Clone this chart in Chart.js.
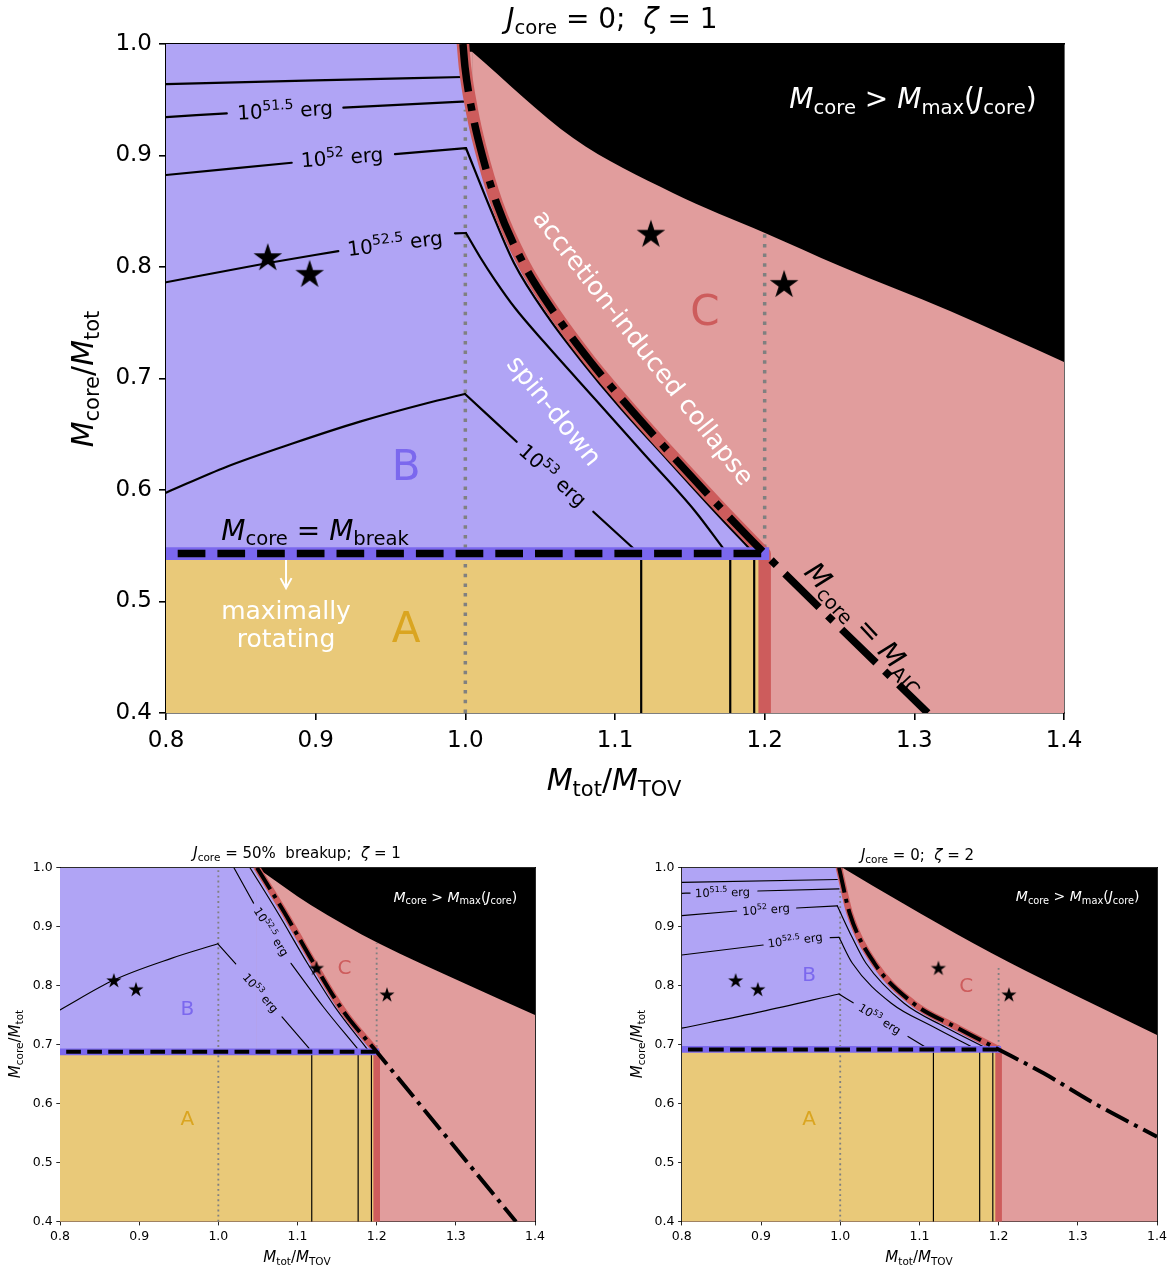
<!DOCTYPE html>
<html>
<head>
<meta charset="utf-8">
<script src="https://cdn.jsdelivr.net/npm/chart.js@4.4.1/dist/chart.umd.min.js"></script>
<style>
  body { margin: 0; background: #fff; }
  #wrap { position: relative; width: 1174px; height: 1268px; }
  canvas { position: absolute; }
</style>
</head>
<body>
<div id="wrap">
  <canvas id="top" width="1174" height="800" style="left:0;top:0;width:1174px;height:800px"></canvas>
  <canvas id="botL" width="587" height="448" style="left:0;top:820px;width:587px;height:448px"></canvas>
  <canvas id="botR" width="587" height="448" style="left:587px;top:820px;width:587px;height:448px"></canvas>
</div>
<script>
// ticks (same in all 3 panels)
const xTicks = [0.8, 0.9, 1.0, 1.1, 1.2, 1.3, 1.4];
const yTicks = [0.4, 0.5, 0.6, 0.7, 0.8, 0.9, 1.0];
// observed systems (stars)
const stars = [[0.868, 0.808], [0.896, 0.793], [1.124, 0.829], [1.213, 0.784]];

// ---- panel 1 : J_core = 0 ; zeta = 1
const topBreak = 0.543;
const topMmax = [[1.0045, 0.993], [1.072, 0.9157], [1.1387, 0.8664], [1.2002, 0.8305], [1.2503, 0.8009], [1.3238, 0.7605], [1.4, 0.7148]];
const topAIC = [[0.9984, 1.0], [0.9998, 0.979], [1.0043, 0.941], [1.0098, 0.908], [1.021, 0.857], [1.0385, 0.804], [1.0586, 0.7605], [1.0833, 0.7157], [1.108, 0.6762], [1.1388, 0.63], [1.1722, 0.5816], [1.2, 0.543]];
const topAICext = [[1.2, 0.543], [1.309, 0.4]];
const topE0 = [[[0.8, 0.9641], [0.8996, 0.9673], [0.9984, 0.9704]]];
const topE515 = [[[0.8, 0.9345], [0.8406, 0.9378]], [[0.9185, 0.9429], [0.9987, 0.9483]]];
const topE52 = [[[0.8, 0.8825], [0.884, 0.8935]], [[0.953, 0.9013], [1.0004, 0.9067]],
  [[1.0004, 0.9067], [1.0171, 0.8511], [1.0325, 0.8036], [1.0552, 0.7552], [1.0786, 0.7139], [1.1031, 0.6744], [1.1352, 0.6269], [1.1675, 0.5794], [1.1895, 0.548]]];
const topE525 = [[[0.8, 0.7863], [0.8682, 0.8036], [0.9151, 0.8143]], [[0.9931, 0.8302], [1.0004, 0.8305]],
  [[1.0004, 0.8305], [1.0098, 0.809], [1.0198, 0.7883], [1.0332, 0.7632], [1.0532, 0.7318], [1.0866, 0.6816], [1.12, 0.6314], [1.1534, 0.5812], [1.1721, 0.548]]];
const topE53 = [[[0.8, 0.5976], [0.8406, 0.6209], [0.885, 0.6419], [0.9296, 0.6613], [0.9742, 0.6778], [0.9998, 0.6861]],
  [[0.9998, 0.6861], [1.0343, 0.6433]], [[1.0855, 0.5805], [1.112, 0.548]]];
const topVert = [1.1175, 1.177, 1.193];
const topDotted = [[1.0, 0.941], [1.2, 0.8314]];

// ---- panel 2 : J_core = 50% breakup ; zeta = 1
const blBreak = 0.688;
const blMmax = [[1.0488, 1.0], [1.1167, 0.9368], [1.2024, 0.8719], [1.3107, 0.8041], [1.4, 0.7503]];
const blAIC = [[1.0488, 1.0], [1.0835, 0.924], [1.1205, 0.838], [1.1573, 0.758], [1.2, 0.688]];
const blAICext = [[1.2, 0.688], [1.376, 0.4]];
const blE52 = [[[1.04, 1.0], [1.0755, 0.9227], [1.1125, 0.838], [1.147, 0.7645], [1.189, 0.691]]];
const blE525 = [[[1.0197, 1.0], [1.0445, 0.94]], [[1.0918, 0.838], [1.133, 0.7635], [1.1753, 0.694]]];
const blE53 = [[[0.8, 0.759], [0.8686, 0.81], [0.9407, 0.8464], [0.9994, 0.871]], [[0.9994, 0.871], [1.022, 0.837]], [[1.0804, 0.747], [1.1144, 0.694]]];
const blVert = [1.118, 1.1766, 1.1934];
const blDotted = [[1.0, 1.0], [1.2, 0.872]];

// ---- panel 3 : J_core = 0 ; zeta = 2
const brBreak = 0.692;
const brMmax = [[1.003, 1.0], [1.079, 0.9397], [1.168, 0.872], [1.257, 0.81], [1.4, 0.7165]];
const brAIC = [[0.9985, 1.0], [1.012, 0.9227], [1.0432, 0.838], [1.0923, 0.7702], [1.1458, 0.73], [1.2, 0.692]];
const brAICext = [[1.2, 0.692], [1.257, 0.6515], [1.3243, 0.598], [1.4, 0.544]];
const brE0 = [[[0.8, 0.975], [0.9963, 0.98]]];
const brE515 = [[[0.8, 0.9566], [0.8105, 0.957]], [[0.896, 0.9605], [0.9985, 0.964]]];
const brE52 = [[[0.8, 0.9187], [0.8692, 0.9266]], [[0.945, 0.9317], [0.9963, 0.9353]],
  [[0.9963, 0.9353], [1.0149, 0.8825], [1.0326, 0.838], [1.0806, 0.7702], [1.1324, 0.73], [1.1866, 0.6927]]];
const brE525 = [[[0.8, 0.852], [0.9027, 0.869]], [[0.9874, 0.8814], [0.9985, 0.882]],
  [[0.9985, 0.882], [1.0154, 0.838], [1.0645, 0.7702], [1.118, 0.73], [1.1715, 0.6927]]];
const brE53 = [[[0.8, 0.728], [0.9004, 0.756], [0.9985, 0.786]], [[0.9985, 0.786], [1.0164, 0.771]], [[1.0856, 0.714], [1.11, 0.694]]];
const brVert = [1.1177, 1.1761, 1.1927];
const brDotted = [[1.0, 0.96], [1.2, 0.832]];

// colours (matplotlib named colours, alpha .6 on white for the regions)
const PURPLE = 'rgb(176,164,245)', YELLOW = 'rgb(233,201,121)', PINK = 'rgb(225,157,157)';
const RED = '#cd5c5c', SLATE = '#7b68ee', GOLD = '#daa520', GREY = '#808080';
const FONT = '"DejaVu Sans", sans-serif';

// tiny mathtext: $..$ italic, _{..} sub, ^{..} sup
const parseMath = (s) => {
  const out = [];
  let buf = '', i = 0;
  const push = (t, k) => { if (t) out.push({ t, k }); };
  while (i < s.length) {
    const c = s[i];
    if (c === '$') {
      push(buf, 'n'); buf = '';
      const j = s.indexOf('$', i + 1);
      push(s.slice(i + 1, j), 'i'); i = j + 1;
    } else if ((c === '_' || c === '^') && s[i + 1] === '{') {
      push(buf, 'n'); buf = '';
      const j = s.indexOf('}', i);
      push(s.slice(i + 2, j), c === '_' ? 'sub' : 'sup'); i = j + 1;
    } else { buf += c; i++; }
  }
  push(buf, 'n');
  return out;
};

const drawRich = (ctx, str, x, y, size, color, rot) => {
  const parts = parseMath(str);
  const fontOf = (p) => (p.k === 'i' ? 'italic ' : '') + ((p.k === 'sub' || p.k === 'sup') ? size * 0.7 : size) + 'px ' + FONT;
  let w = 0;
  parts.forEach((p) => { ctx.font = fontOf(p); p.w = ctx.measureText(p.t).width; w += p.w; });
  ctx.save();
  ctx.translate(x, y);
  ctx.rotate((rot || 0) * Math.PI / 180);
  ctx.fillStyle = color || '#000';
  ctx.textBaseline = 'alphabetic';
  ctx.textAlign = 'left';
  const base = size * 0.36;
  let cx = -w / 2;
  parts.forEach((p) => {
    ctx.font = fontOf(p);
    const dy = p.k === 'sub' ? size * 0.2 : p.k === 'sup' ? -size * 0.4 : 0;
    ctx.fillText(p.t, cx, base + dy);
    cx += p.w;
  });
  ctx.restore();
};

// texts + arrow on top of everything
const notesPlugin = {
  id: 'notes',
  afterDraw(chart, args, opts) {
    const { ctx, scales } = chart;
    (opts.items || []).forEach((n) => {
      const px = n.px !== undefined ? n.px : scales.x.getPixelForValue(n.x);
      const py = n.py !== undefined ? n.py : scales.y.getPixelForValue(n.y);
      if (n.arrow) {
        const py2 = scales.y.getPixelForValue(n.y2);
        ctx.save();
        ctx.strokeStyle = n.color; ctx.lineWidth = n.w;
        ctx.beginPath();
        ctx.moveTo(px, py); ctx.lineTo(px, py2);
        ctx.moveTo(px - n.head * 0.55, py2 - n.head); ctx.lineTo(px, py2); ctx.lineTo(px + n.head * 0.55, py2 - n.head);
        ctx.stroke();
        ctx.restore();
      } else {
        drawRich(ctx, n.t, px, py, n.size, n.color, n.rot);
      }
    });
  }
};

const makeStar = (r) => {
  const c = document.createElement('canvas');
  const n = Math.ceil(r * 2 + 2);
  c.width = n; c.height = n;
  const g = c.getContext('2d');
  g.translate(n / 2, n / 2);
  g.beginPath();
  for (let i = 0; i < 10; i++) {
    const rr = i % 2 ? r * 0.382 : r;
    const a = -Math.PI / 2 + i * Math.PI / 5;
    g.lineTo(rr * Math.cos(a), rr * Math.sin(a));
  }
  g.closePath();
  g.fillStyle = '#000';
  g.fill();
  return c;
};

const pts = (a) => a.map((q) => ({ x: q[0], y: q[1] }));
const line = (a, color, width, extra) => Object.assign({
  data: pts(a), showLine: true, borderColor: color, borderWidth: width,
  pointRadius: 0, fill: false, clip: 0
}, extra || {});
const area = (a, color, fill, order) => ({
  data: pts(a), showLine: true, borderWidth: 0, borderColor: 'rgba(0,0,0,0)',
  backgroundColor: color, fill, pointRadius: 0, cubicInterpolationMode: 'monotone', order
});

const makePanel = (id, p) => {
  const s = p.s;
  const ds = [];
  const m0 = p.mmax[0], a0 = p.aic[0];
  // regions (flat parts kept apart from the curves so the spline stays clean)
  ds.push(area([[0.8, 1.0], [1.4, 1.0]], '#000', 'start', 100));
  ds.push(area([[0.8, m0[1]], [m0[0], m0[1]]], PINK, 'start', 91));
  ds.push(area(p.mmax, PINK, 'start', 90));
  ds.push(area([[0.8, 1.0], [a0[0], 1.0]], PURPLE, { value: p.brk }, 81));
  ds.push(area(p.aic, PURPLE, { value: p.brk }, 80));
  ds.push(area([[0.8, p.brk], [1.2, p.brk]], YELLOW, 'start', 70));
  // grey dotted
  p.dotted.forEach((d) => ds.push(line([[d[0], 0.4], [d[0], d[1]]], GREY, 3.5 * s, { borderDash: [3.5 * s, 6.2 * s], order: 60 })));
  // energy contours
  p.contours.forEach((c) => c.forEach((seg) => ds.push(line(seg, '#000', 2.2 * s, { cubicInterpolationMode: 'monotone', borderCapStyle: 'round', order: 50 }))));
  p.vert.forEach((v) => ds.push(line([[v, 0.4], [v, p.brk]], '#000', 2.2 * s, { order: 50 })));
  // AIC boundary (red band)
  ds.push(line(p.aic, RED, 12.5 * s, { cubicInterpolationMode: 'monotone', borderCapStyle: 'round', order: 40 }));
  ds.push(line([[1.2, p.brk], [1.2, 0.4]], RED, 12.5 * s, { order: 40 }));
  // M_core = M_break
  ds.push(line([[0.8, p.brk], [1.203, p.brk]], SLATE, 12.7 * s, { order: 35 }));
  ds.push(line([[0.8, p.brk], [1.2, p.brk]], '#000', 7.5 * s, { borderDash: [27.7 * s, 12 * s], borderDashOffset: 28 * s, order: 34 }));
  // M_core = M_AIC dash-dot
  ds.push(line(p.aic.concat(p.aicExt.slice(1)), '#000', 7.5 * s, { borderDash: [48 * s, 12 * s, 7.5 * s, 12 * s], cubicInterpolationMode: 'monotone', order: 30 }));
  // stars
  const star = makeStar(15 * s);
  ds.push({ data: pts(stars), showLine: false, pointStyle: star, pointRadius: 15 * s, order: 10 });

  const tickFont = { family: FONT, size: p.tick };
  const frame = { display: true, color: '#000', width: 1.6 * s };
  const mainAxis = (pos, ticks, fit, pad) => ({
    type: 'linear', position: pos, min: pos === 'bottom' ? 0.8 : 0.4, max: pos === 'bottom' ? 1.4 : 1.0, z: 1,
    afterBuildTicks: (sc) => { sc.ticks = ticks.map((v) => ({ value: v })); },
    afterFit: fit,
    ticks: { color: '#000', font: tickFont, padding: pad, maxRotation: 0, autoSkip: false, callback: (v) => Number(v).toFixed(1) },
    grid: { display: true, drawOnChartArea: false, drawTicks: true, tickLength: 7 * s, color: '#000', lineWidth: 1.6 * s },
    border: frame
  });
  const sideAxis = (pos, fit) => ({
    type: 'linear', position: pos, min: pos === 'top' ? 0.8 : 0.4, max: pos === 'top' ? 1.4 : 1.0, z: 1,
    ticks: { display: false }, grid: { display: false }, border: frame, afterFit: fit
  });

  new Chart(document.getElementById(id), {
    type: 'scatter',
    data: { datasets: ds },
    options: {
      responsive: false,
      animation: false,
      layout: { padding: p.pad },
      plugins: { legend: { display: false }, tooltip: { enabled: false }, notes: { items: p.notes } },
      scales: {
        x: mainAxis('bottom', xTicks, (sc) => { sc.height = p.xh; }, 7 * s),
        y: mainAxis('left', yTicks, (sc) => { sc.width = p.yw; }, 7 * s),
        xTop: sideAxis('top', (sc) => { sc.height = 0; }),
        yRight: sideAxis('right', (sc) => { sc.width = 0; })
      }
    },
    plugins: [notesPlugin]
  });
};

const mmaxLabel = '$M$_{core} > $M$_{max}($J$_{core})';
const xLabel = '$M$_{tot}/$M$_{TOV}';
const yLabel = '$M$_{core}/$M$_{tot}';

makePanel('top', {
  s: 1, tick: 23, pad: { left: 0, top: 44, right: 110, bottom: 0 }, yw: 166, xh: 87,
  brk: topBreak, mmax: topMmax, aic: topAIC, aicExt: topAICext,
  contours: [topE0, topE515, topE52, topE525, topE53], vert: topVert, dotted: topDotted,
  notes: [
    { x: 0.8795, y: 0.9408, t: '10^{51.5} erg', size: 20, rot: -3 },
    { x: 0.9176, y: 0.8987, t: '10^{52} erg', size: 20, rot: -4.5 },
    { x: 0.953, y: 0.8215, t: '10^{52.5} erg', size: 20, rot: -7 },
    { x: 1.0586, y: 0.6135, t: '10^{53} erg', size: 20, rot: 42 },
    { x: 1.0599, y: 0.6717, t: 'spin-down', size: 26, color: '#fff', rot: 51 },
    { x: 1.1194, y: 0.7283, t: 'accretion-induced collapse', size: 25.5, color: '#fff', rot: 52 },
    { x: 1.1601, y: 0.7614, t: 'C', size: 42, color: RED },
    { x: 0.9604, y: 0.6224, t: 'B', size: 42, color: SLATE },
    { x: 0.9604, y: 0.4771, t: 'A', size: 42, color: GOLD },
    { x: 0.8996, y: 0.5645, t: '$M$_{core} = $M$_{break}', size: 28 },
    { arrow: true, x: 0.8802, y: 0.5372, y2: 0.512, color: '#fff', w: 2, head: 10 },
    { x: 0.8802, y: 0.4924, t: 'maximally', size: 25, color: '#fff' },
    { x: 0.8802, y: 0.4673, t: 'rotating', size: 25, color: '#fff' },
    { x: 1.2991, y: 0.9516, t: mmaxLabel, size: 28, color: '#fff' },
    { x: 1.2681, y: 0.4774, t: '$M$_{core} = $M$_{AIC}', size: 28, rot: 47 },
    { px: 612, py: 18, t: '$J$_{core} = 0;  $ζ$ = 1', size: 28 },
    { px: 614, py: 779, t: xLabel, size: 30 },
    { px: 82, py: 379, t: yLabel, size: 30, rot: -90 }
  ]
});

makePanel('botL', {
  s: 0.53, tick: 12.5, pad: { left: 0, top: 47.7, right: 52, bottom: 0 }, yw: 60, xh: 46.3,
  brk: blBreak, mmax: blMmax, aic: blAIC, aicExt: blAICext,
  contours: [blE52, blE525, blE53], vert: blVert, dotted: blDotted,
  notes: [
    { x: 1.0535, y: 0.788, t: '10^{53} erg', size: 11.5, rot: 49 },
    { x: 1.067, y: 0.8916, t: '10^{52.5} erg', size: 11.5, rot: 58 },
    { x: 0.961, y: 0.7617, t: 'B', size: 20, color: SLATE },
    { x: 1.1595, y: 0.832, t: 'C', size: 20, color: RED },
    { x: 0.961, y: 0.5753, t: 'A', size: 20, color: GOLD },
    { x: 1.2994, y: 0.951, t: mmaxLabel, size: 14, color: '#fff' },
    { px: 297, py: 33, t: '$J$_{core} = 50%  breakup;  $ζ$ = 1', size: 15 },
    { px: 297, py: 437, t: xLabel, size: 15 },
    { px: 15, py: 224, t: yLabel, size: 15, rot: -90 }
  ]
});

makePanel('botR', {
  s: 0.53, tick: 12.5, pad: { left: 0, top: 47.7, right: 17, bottom: 0 }, yw: 94.8, xh: 46.3,
  brk: brBreak, mmax: brMmax, aic: brAIC, aicExt: brAICext,
  contours: [brE0, brE515, brE52, brE525, brE53], vert: brVert, dotted: brDotted,
  notes: [
    { x: 0.8514, y: 0.9583, t: '10^{51.5} erg', size: 11.5, rot: -1.6 },
    { x: 0.9063, y: 0.9294, t: '10^{52} erg', size: 11.5, rot: -4 },
    { x: 0.943, y: 0.8775, t: '10^{52.5} erg', size: 11.5, rot: -7 },
    { x: 1.05, y: 0.744, t: '10^{53} erg', size: 11.5, rot: 32 },
    { x: 0.9606, y: 0.821, t: 'B', size: 20, color: SLATE },
    { x: 1.159, y: 0.8012, t: 'C', size: 20, color: RED },
    { x: 0.9606, y: 0.5753, t: 'A', size: 20, color: GOLD },
    { x: 1.2998, y: 0.952, t: mmaxLabel, size: 14, color: '#fff' },
    { px: 330.5, py: 35, t: '$J$_{core} = 0;  $ζ$ = 2', size: 15 },
    { px: 332, py: 437, t: xLabel, size: 15 },
    { px: 50, py: 224, t: yLabel, size: 15, rot: -90 }
  ]
});
</script>
</body>
</html>
